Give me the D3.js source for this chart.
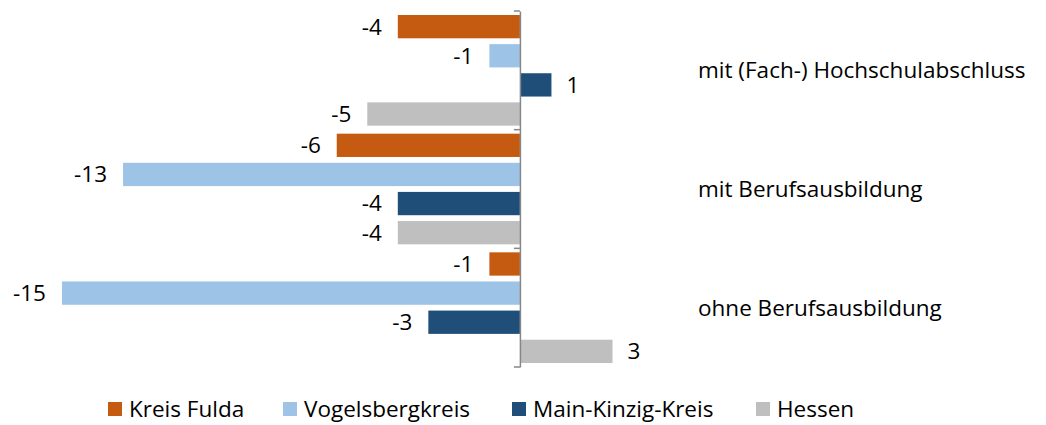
<!DOCTYPE html>
<html>
<head>
<meta charset="utf-8">
<script src="https://cdn.jsdelivr.net/npm/d3@7"></script>
<style>
  body { margin: 0; background: #fff; }
  text { font-family: "Open Sans", Lato, sans-serif; fill: #000; }
</style>
</head>
<body>
<svg id="chart" width="1046" height="425"></svg>
<script>
// categories top to bottom
var categories = ['mit (Fach-) Hochschulabschluss', 'mit Berufsausbildung', 'ohne Berufsausbildung'];
var seriesNames = ['Kreis Fulda', 'Vogelsbergkreis', 'Main-Kinzig-Kreis', 'Hessen'];
var seriesColors = ['#C55A11', '#9DC3E6', '#1F4E79', '#BFBFBF'];
var kreisFulda = [-4, -6, -1];
var vogelsberg = [-1, -13, -15];
var mainKinzig = [1, -4, -3];
var hessen = [-5, -4, 3];

var allSeries = [kreisFulda, vogelsberg, mainKinzig, hessen];
var fontSize = 22.5;

var svg = d3.select('#chart');

// x scale: 1 unit ~ 30.5px, zero at 519.5
var x = d3.scaleLinear().domain([-15, 3]).range([62, 611.5]);

var y0 = d3.scaleBand().domain(categories).range([11, 367]).paddingInner(0).paddingOuter(0);
var y1 = d3.scaleBand().domain(d3.range(seriesNames.length)).range([4, y0.bandwidth() - 4]).paddingInner(0.2).paddingOuter(0);

var rows = [];
categories.forEach(function(c, ci) {
  allSeries.forEach(function(s, si) {
    rows.push({ cat: c, idx: si, value: s[ci] });
  });
});

var g = svg.append('g');

g.selectAll('rect.bar')
  .data(rows)
  .enter().append('rect')
  .attr('class', 'bar')
  .attr('x', function(d) { return d.value < 0 ? x(d.value) : x(0) + 1; })
  .attr('width', function(d) { return Math.abs(x(d.value) - x(0)); })
  .attr('y', function(d) { return y0(d.cat) + y1(d.idx); })
  .attr('height', y1.bandwidth())
  .attr('fill', function(d) { return seriesColors[d.idx]; });

// data labels
g.selectAll('text.lbl')
  .data(rows)
  .enter().append('text')
  .attr('class', 'lbl')
  .attr('x', function(d) { return d.value < 0 ? x(d.value) - 16 : x(d.value) + 16; })
  .attr('y', function(d) { return y0(d.cat) + y1(d.idx) + y1.bandwidth() / 2; })
  .attr('dy', '0.35em')
  .attr('text-anchor', function(d) { return d.value < 0 ? 'end' : 'start'; })
  .attr('font-size', fontSize)
  .text(function(d) { return d.value; });

// vertical axis at zero with left ticks at band borders
var axis = d3.axisLeft(y0).tickSize(0).tickFormat('');
var ax = svg.append('g').attr('transform', 'translate(' + x(0) + ',0)').call(axis);
ax.select('.domain').attr('stroke', '#868686').attr('stroke-width', 1.5);
var borders = [11, 11 + y0.bandwidth(), 11 + 2 * y0.bandwidth(), 367];
ax.selectAll('line.tk')
  .data(borders)
  .enter().append('line')
  .attr('class', 'tk')
  .attr('x1', -6).attr('x2', 0)
  .attr('y1', function(d) { return d; }).attr('y2', function(d) { return d; })
  .attr('stroke', '#868686').attr('stroke-width', 1.5);

// category labels on the right
svg.selectAll('text.cat')
  .data(categories)
  .enter().append('text')
  .attr('class', 'cat')
  .attr('x', 698)
  .attr('y', function(d) { return y0(d) + y0.bandwidth() / 2; })
  .attr('dy', '0.35em')
  .attr('font-size', fontSize)
  .text(function(d) { return d; });

// legend
var legendX = [108, 283, 512, 756];
var lg = svg.selectAll('g.leg')
  .data(seriesNames)
  .enter().append('g')
  .attr('class', 'leg')
  .attr('transform', function(d, i) { return 'translate(' + legendX[i] + ',402)'; });
lg.append('rect').attr('width', 14).attr('height', 14)
  .attr('fill', function(d, i) { return seriesColors[i]; });
lg.append('text').attr('x', 21).attr('y', 7).attr('dy', '0.35em')
  .attr('font-size', fontSize)
  .text(function(d) { return d; });
</script>
</body>
</html>
